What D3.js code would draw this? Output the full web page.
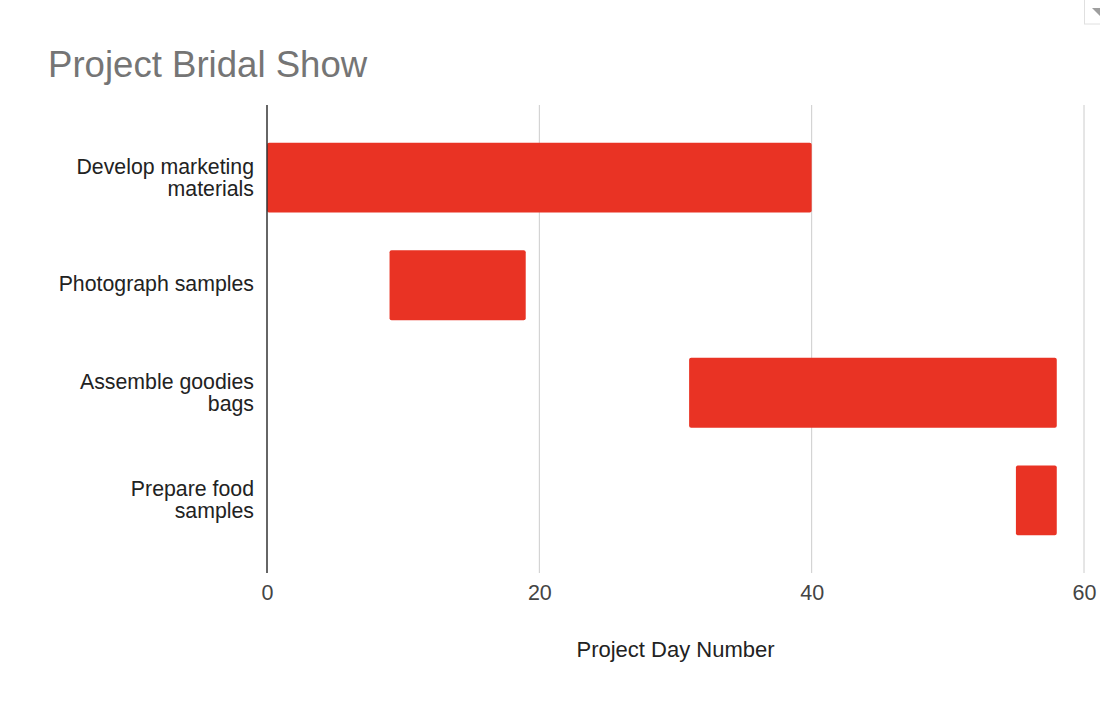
<!DOCTYPE html>
<html>
<head>
<meta charset="utf-8">
<script src="https://cdn.jsdelivr.net/npm/d3@7"></script>
<style>
  body { margin: 0; background: #fff; }
  svg { display: block; font-family: "Liberation Sans", Arial, sans-serif; }
</style>
</head>
<body>
<svg id="chart" width="1100" height="704"></svg>
<script>
const tasks = ['Develop marketing materials', 'Photograph samples', 'Assemble goodies bags', 'Prepare food samples'];
const taskLines = [['Develop marketing', 'materials'], ['Photograph samples'], ['Assemble goodies', 'bags'], ['Prepare food', 'samples']];
const startDay = [0, 9, 31, 55];
const duration = [40, 10, 27, 3];
const xTicks = [0, 20, 40, 60];

const svg = d3.select('#chart');
const width = 1100, height = 704;
const margin = { top: 105, right: 16, bottom: 131, left: 267 };

// Scales
const x = d3.scaleLinear()
  .domain([0, 60])
  .range([margin.left, 1084]);

const y = d3.scaleBand()
  .domain(tasks)
  .range([margin.top, height - margin.bottom])
  .padding(0.35);

// Title
svg.append('text')
  .attr('x', 48)
  .attr('y', 77)
  .attr('fill', '#757575')
  .attr('font-size', 36.6)
  .text('Project Bridal Show');

// Little menu box in the corner
svg.append('rect')
  .attr('x', 1084.5).attr('y', -1)
  .attr('width', 20).attr('height', 25)
  .attr('fill', '#fff').attr('stroke', '#e0e0e0');
svg.append('path')
  .attr('d', 'M1092,8 L1100,8 L1100,16 Z')
  .attr('fill', '#9e9e9e');

// Grid lines
svg.append('g')
  .selectAll('line')
  .data(xTicks.filter(d => d > 0))
  .enter()
  .append('line')
  .attr('x1', d => x(d)).attr('x2', d => x(d))
  .attr('y1', margin.top).attr('y2', height - margin.bottom)
  .attr('stroke', '#cccccc')
  .attr('stroke-width', 1);

// Bars (start offset is invisible, like a stacked gantt)
svg.append('g')
  .selectAll('rect')
  .data(tasks)
  .enter()
  .append('rect')
  .attr('x', (d, i) => x(startDay[i]))
  .attr('y', d => y(d))
  .attr('width', (d, i) => x(startDay[i] + duration[i]) - x(startDay[i]))
  .attr('height', y.bandwidth())
  .attr('rx', 2)
  .attr('fill', '#e93324');

// Zero axis line
svg.append('line')
  .attr('x1', x(0)).attr('x2', x(0))
  .attr('y1', margin.top).attr('y2', height - margin.bottom)
  .attr('stroke', '#333333')
  .attr('stroke-width', 1.5);

// X axis labels
const xAxis = svg.append('g')
  .attr('transform', `translate(0,${height - margin.bottom})`)
  .call(d3.axisBottom(x).tickValues(xTicks).tickSize(0).tickPadding(12).tickFormat(d3.format('d')));
xAxis.select('.domain').remove();
xAxis.selectAll('text')
  .attr('fill', '#444444')
  .attr('font-size', 21.5)
  .attr('font-family', '"Liberation Sans", Arial, sans-serif');

// Y axis category labels, one text per wrapped line
const yLabels = svg.append('g');
tasks.forEach((t, i) => {
  const lines = taskLines[i];
  const cy = y(t) + y.bandwidth() / 2;
  const lh = 22;
  const off = lines.length > 1 ? 7 : 5.5;
  const y0 = cy + off - (lines.length - 1) * lh / 2;
  lines.forEach((l, j) => {
    yLabels.append('text')
      .attr('x', 254)
      .attr('y', y0 + j * lh)
      .attr('text-anchor', 'end')
      .attr('fill', '#222222')
      .attr('font-size', 21.3)
      .text(l);
  });
});

// X axis title
svg.append('text')
  .attr('x', (x(0) + x(60)) / 2)
  .attr('y', 657)
  .attr('text-anchor', 'middle')
  .attr('fill', '#222222')
  .attr('font-size', 22)
  .text('Project Day Number');
</script>
</body>
</html>
